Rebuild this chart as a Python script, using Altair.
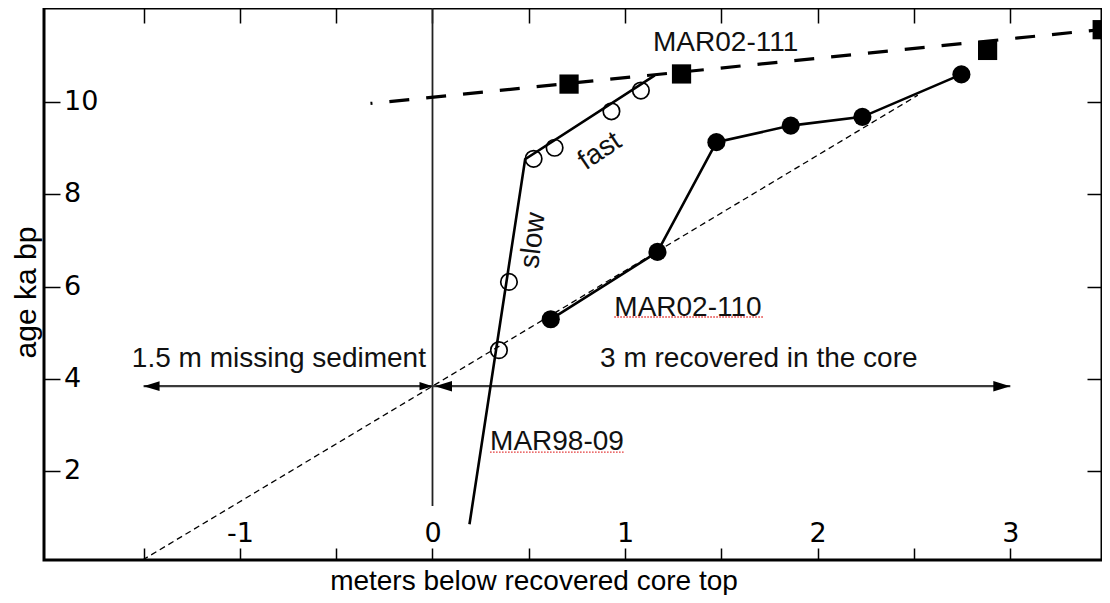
import altair as alt
import pandas as pd

# ---- data (x: meters below recovered core top, y: age ka bp)
m98_x = [0.345, 0.397, 0.525, 0.634, 0.929, 1.082]          # MAR98-09 open circles
m98_y = [4.62, 6.10, 8.77, 9.01, 9.80, 10.25]
m98_line_x = [0.192, 0.481, 1.154]                          # MAR98-09 slow / fast line
m98_line_y = [0.845, 8.76, 10.58]

m110_x = [0.614, 1.168, 1.474, 1.860, 2.232, 2.746]         # MAR02-110 filled circles
m110_y = [5.29, 6.75, 9.13, 9.49, 9.68, 10.60]

m111_x = [0.709, 1.293, 2.882, 3.477]                       # MAR02-111 squares
m111_y = [10.39, 10.61, 11.12, 11.57]
m111_line_x = [-0.322, 3.49]                                # MAR02-111 dashed line
m111_line_y = [9.97, 11.58]

ref_line_x = [-1.505, 2.52]                                 # thin dashed reference line
ref_line_y = [0.07, 10.15]

zero_x = [0.0]
zero_y = [1.24]
zero_y2 = [12.04]

arrow_x = [-1.5, 0.0]
arrow_x2 = [0.0, 3.0]
arrow_y = [3.84, 3.84]
head_x = [-1.5, 0.0, 0.013, 3.0]
head_y = [3.84, 3.84, 3.84, 3.84]
head_dir = ["left", "right", "left", "right"]
head_size = [256, 169, 289, 289]

lab_left_text = ["MAR02-111", "MAR02-110", "MAR98-09", "3 m recovered in the core"]
lab_left_x = [1.145, 0.944, 0.299, 0.87]
lab_left_y = [11.10, 5.37, 2.45, 4.25]
lab_right_text = ["1.5 m missing sediment"]
lab_right_x = [-0.034]
lab_right_y = [4.26]
rot_text = ["slow", "fast"]
rot_x = [0.524, 0.870]
rot_y = [7.0, 8.93]
rot_angle = [277, 326]

ul_x = [0.299, 0.944]
ul_x2 = [0.994, 1.717]
ul_y = [2.41, 5.34]

x_ticks = [-1.5, -1, -0.5, 0, 0.5, 1, 1.5, 2, 2.5, 3]
y_ticks = [2, 4, 6, 8, 10]
y_tick_labels = ["2", "4", "6", "8", "10"]
x_domain = [-2.017, 3.476]
y_domain = [0.07, 12.04]

PLOT_W = 1058
PLOT_H = 552

# ---- scales and axes
xs = alt.Scale(domain=x_domain, nice=False, zero=False)
ys = alt.Scale(domain=y_domain, nice=False, zero=False)

ax_bottom = alt.Axis(orient="bottom", values=x_ticks, offset=-12, tickSize=12, tickWidth=1.5,
                     tickColor="black", domain=False, grid=False,
                     labelFont="DejaVu Sans", labelFontSize=27, labelColor="black",
                     labelBaseline="alphabetic", labelPadding=-19, labelFlush=False,
                     labelOverlap=False,
                     labelExpr="datum.value % 1 == 0 ? '' + datum.value : ''",
                     title="meters below recovered core top", titleFont="Liberation Sans",
                     titleFontSize=28, titleFontWeight="normal", titleColor="black",
                     titleX=489.5, titleY=41, titleBaseline="alphabetic", titleAlign="center")
ax_left = alt.Axis(orient="left", values=y_ticks, offset=-16, tickSize=16, tickWidth=1.5,
                   tickColor="black", domain=False, grid=False, labels=False,
                   title="age ka bp", titleFont="Liberation Sans", titleFontSize=30,
                   titleFontWeight="normal", titleColor="black", titleAngle=270,
                   titleX=-25, titleY=284, titleBaseline="alphabetic", titleAlign="center")
ax_top = alt.Axis(orient="top", values=x_ticks, offset=-15, tickSize=15, tickWidth=1.5,
                  tickColor="black", domain=False, grid=False, labels=False, title=None)
ax_right = alt.Axis(orient="right", values=y_ticks, offset=-15, tickSize=15, tickWidth=1.5,
                    tickColor="black", domain=False, grid=False, labels=False, title=None)

def X(field="x", axis=None):
    return alt.X(f"{field}:Q", scale=xs, axis=axis)

def Y(field="y", axis=None):
    return alt.Y(f"{field}:Q", scale=ys, axis=axis)

# ---- layers
ref_df = pd.DataFrame({"x": ref_line_x, "y": ref_line_y})
ref_line = alt.Chart(ref_df).mark_line(color="black", strokeWidth=1.3, strokeDash=[6, 4]).encode(
    x=X(axis=ax_bottom), y=Y(axis=ax_left))

zero_df = pd.DataFrame({"x": zero_x, "y": zero_y, "y2": zero_y2})
zero_line = alt.Chart(zero_df).mark_rule(color="#222", strokeWidth=1.8).encode(
    x=X(), y=Y(), y2="y2:Q")

arrow_df = pd.DataFrame({"x": arrow_x, "x2": arrow_x2, "y": arrow_y})
arrows = alt.Chart(arrow_df).mark_rule(color="#3a3a3a", strokeWidth=2.2).encode(
    x=X(axis=ax_top), x2="x2:Q", y=Y(axis=ax_right))

path_left = "M0,0L2,-0.62L2,0.62Z"
path_right = "M0,0L-2,-0.62L-2,0.62Z"
head_df = pd.DataFrame({"x": head_x, "y": head_y, "dir": head_dir, "sz": head_size})
heads = alt.Chart(head_df).mark_point(filled=True, color="black", opacity=1).encode(
    x=X(), y=Y(),
    shape=alt.Shape("dir:N", scale=alt.Scale(domain=["left", "right"], range=[path_left, path_right]),
                    legend=None),
    size=alt.Size("sz:Q", scale=None, legend=None))

m111_line_df = pd.DataFrame({"x": m111_line_x, "y": m111_line_y})
m111_line = alt.Chart(m111_line_df).mark_line(color="black", strokeWidth=3.2, strokeDash=[20, 17],
                                              strokeDashOffset=18).encode(x=X(), y=Y())

m98_line_df = pd.DataFrame({"x": m98_line_x, "y": m98_line_y})
m98_line = alt.Chart(m98_line_df).mark_line(color="black", strokeWidth=2.6).encode(x=X(), y=Y())

m110_df = pd.DataFrame({"x": m110_x, "y": m110_y})
m110_line = alt.Chart(m110_df).mark_line(color="black", strokeWidth=2.6).encode(x=X(), y=Y())
m110_pts = alt.Chart(m110_df).mark_point(shape="circle", filled=True, color="black", size=330,
                                         opacity=1).encode(x=X(), y=Y())

m98_df = pd.DataFrame({"x": m98_x, "y": m98_y})
m98_pts = alt.Chart(m98_df).mark_point(shape="circle", filled=False, stroke="black", strokeWidth=1.7,
                                       size=272, opacity=1).encode(x=X(), y=Y())

m111_df = pd.DataFrame({"x": m111_x, "y": m111_y})
m111_pts = alt.Chart(m111_df).mark_point(shape="square", filled=True, color="black", size=370,
                                         opacity=1).encode(x=X(), y=Y())

# y tick labels: left-aligned just inside the frame, placed on the y scale
ytl_df = pd.DataFrame({"y": y_ticks, "t": y_tick_labels})
y_tick_text = alt.Chart(ytl_df).mark_text(align="left", baseline="middle", font="DejaVu Sans",
                                          fontSize=27, color="black").encode(
    x=alt.value(20), y=Y(), text="t:N")

ll_df = pd.DataFrame({"x": lab_left_x, "y": lab_left_y, "t": lab_left_text})
labels_left = alt.Chart(ll_df).mark_text(align="left", baseline="alphabetic", font="Liberation Sans",
                                         fontSize=28, color="#111").encode(x=X(), y=Y(), text="t:N")
lr_df = pd.DataFrame({"x": lab_right_x, "y": lab_right_y, "t": lab_right_text})
labels_right = alt.Chart(lr_df).mark_text(align="right", baseline="alphabetic", font="Liberation Sans",
                                          fontSize=28, color="#111").encode(x=X(), y=Y(), text="t:N")
rot_df = pd.DataFrame({"x": rot_x, "y": rot_y, "t": rot_text, "a": rot_angle})
labels_rot = alt.Chart(rot_df).mark_text(align="center", baseline="middle", font="Liberation Sans",
                                         fontSize=28, color="#111").encode(
    x=X(), y=Y(), text="t:N", angle=alt.Angle("a:Q", scale=None))

ul_df = pd.DataFrame({"x": ul_x, "x2": ul_x2, "y": ul_y})
underlines = alt.Chart(ul_df).mark_rule(color="#e23030", strokeWidth=1.4, strokeDash=[1.5, 1.5]).encode(
    x=X(), x2="x2:Q", y=Y())

chart = alt.layer(
    ref_line, zero_line, arrows, heads, m111_line, m98_line, m110_line,
    m110_pts, m98_pts, m111_pts, underlines, y_tick_text, labels_left, labels_right, labels_rot
).resolve_axis(x="independent", y="independent").properties(
    width=PLOT_W, height=PLOT_H,
    autosize=alt.AutoSizeParams(type="none"),
    padding={"left": 36, "top": 0, "right": 0, "bottom": 35},
    background="white",
).configure_view(stroke="black", strokeWidth=3)

chart.save("out.html", embed_options={"renderer": "svg", "actions": False})
